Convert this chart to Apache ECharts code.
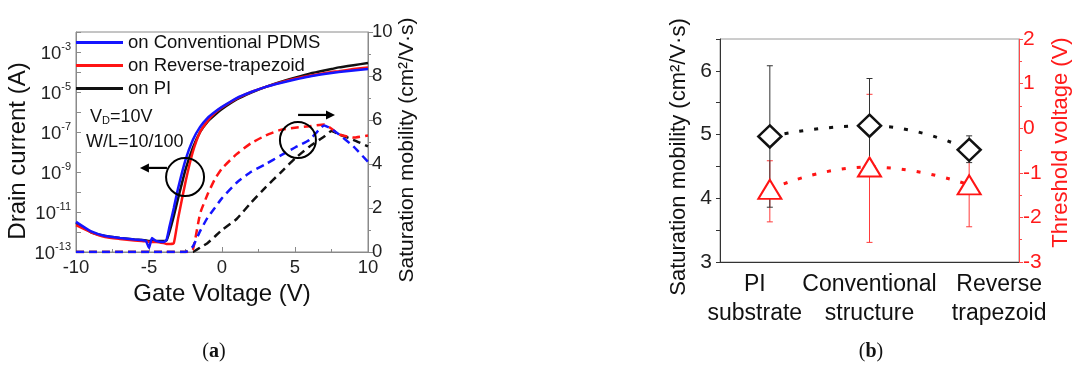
<!DOCTYPE html>
<html><head><meta charset="utf-8">
<script src="https://cdn.jsdelivr.net/npm/echarts@6/dist/echarts.min.js"></script>
<style>html,body{margin:0;padding:0;background:#fff}#c{width:1073px;height:383px}</style>
</head><body><div id="c"></div>
<script>
// ---------- Panel (a) data ----------
const gateV = [-10,-9,-8,-7,-6,-5.5,-5.2,-5,-4.8,-4.5,-4,-3.8,-3.6,-3.3,-3,-2.5,-2,-1.5,-1,-0.5,0,1,2,3,4,5,6,7,7.5,8,9,10];
// drain current (A)
const idPDMS = [3.2e-12,1.1e-12,6.3e-13,5.0e-13,4.2e-13,4.0e-13,3.5e-13,1.6e-13,5.0e-13,3.5e-13,3.2e-13,4.0e-13,1.8e-12,1.6e-11,1.6e-10,4.0e-9,4.0e-8,1.8e-7,5.0e-7,1.0e-6,1.8e-6,5.0e-6,1.0e-5,1.8e-5,2.8e-5,4.2e-5,6.0e-5,7.9e-5,8.9e-5,1.0e-4,1.2e-4,1.4e-4];
const idRev  = [2.2e-12,1.0e-12,5.6e-13,4.5e-13,3.8e-13,3.5e-13,3.4e-13,3.2e-13,3.2e-13,3.2e-13,2.8e-13,2.5e-13,2.5e-13,2.8e-13,5.0e-12,3.2e-10,1.0e-8,1.0e-7,3.5e-7,8.9e-7,1.7e-6,4.7e-6,1.0e-5,1.8e-5,3.0e-5,4.6e-5,6.5e-5,8.7e-5,1.0e-4,1.1e-4,1.4e-4,1.7e-4];
const idPI   = [2.8e-12,1.0e-12,6.3e-13,5.0e-13,4.2e-13,4.0e-13,3.8e-13,3.5e-13,3.5e-13,3.5e-13,3.5e-13,3.8e-13,1.0e-12,6.3e-12,5.0e-11,1.3e-9,1.6e-8,1.0e-7,3.2e-7,7.1e-7,1.4e-6,4.2e-6,9.3e-6,1.8e-5,3.2e-5,5.2e-5,8.3e-5,1.2e-4,1.4e-4,1.7e-4,2.2e-4,2.8e-4];
// saturation mobility (cm2/V s)
const muPDMS = [0,0,0,0,0,0,0,0,0,0,0,0,0,0,0,0,0.25,0.95,1.55,2.0,2.45,3.15,3.65,4.0,4.38,4.75,5.1,5.75,5.6,5.35,4.8,4.1];
const muRev  = [0,0,0,0,0,0,0,0,0,0,0,0,0,0,0,0,0.1,1.75,2.6,3.3,3.8,4.45,4.95,5.3,5.55,5.65,5.72,5.8,5.6,5.35,5.2,5.3];
const muPI   = [0,0,0,0,0,0,0,0,0,0,0,0,0,0,0,0,0,0.2,0.4,0.7,1.0,1.5,2.25,2.95,3.6,4.25,4.8,5.25,5.5,5.35,5.1,4.8];

// ---------- Panel (b) data ----------
const categories = ['PI\nsubstrate', 'Conventional\nstructure', 'Reverse\ntrapezoid'];
const mobility = [4.97, 5.14, 4.76];
const mobilityLow = [3.86, 4.40, 4.56];
const mobilityHigh = [6.08, 5.88, 4.98];
const vth = [-1.37, -0.87, -1.27];
const vthLow = [-2.10, -2.56, -2.21];
const vthHigh = [-0.73, 0.76, -0.40];

const FONT = '"Liberation Sans", Arial, Helvetica, sans-serif';
const BLUE = '#1515ff', RED = '#ff1414', BLACK = '#111111';
const AX_A = '#8a8a8a';

const pair = (xs, ys) => xs.map((x, i) => [x, ys[i]]);
const triple = (lo, hi) => lo.map((l, i) => [i, l, hi[i]]);

function errRender(color) {
  return function (params, api) {
    const x = api.value(0);
    const pLo = api.coord([x, api.value(1)]);
    const pHi = api.coord([x, api.value(2)]);
    const w = 3;
    const style = { stroke: color, lineWidth: 1 };
    return { type: 'group', children: [
      { type: 'line', shape: { x1: pLo[0], y1: pLo[1], x2: pHi[0], y2: pHi[1] }, style: style },
      { type: 'line', shape: { x1: pLo[0] - w, y1: pLo[1], x2: pLo[0] + w, y2: pLo[1] }, style: style },
      { type: 'line', shape: { x1: pHi[0] - w, y1: pHi[1], x2: pHi[0] + w, y2: pHi[1] }, style: style }
    ]};
  };
}

const solid = (name, data, color, z) => ({
  name: name, type: 'line', xAxisIndex: 0, yAxisIndex: 0, data: pair(gateV, data),
  symbol: 'none', smooth: 0.15, z: z, lineStyle: { color: color, width: 2.5 }, itemStyle: { color: color }
});
const dashed = (data, color, z) => ({
  type: 'line', xAxisIndex: 0, yAxisIndex: 1, data: pair(gateV, data),
  symbol: 'none', smooth: 0.15, z: z, lineStyle: { color: color, width: 2.5, type: [8, 5] }
});

// category label styles (label block offsets as in the original figure)
const catStyle = ['l', 'c', 'r'];
const catRich = {
  l: { fontSize: 23, lineHeight: 29, fontFamily: FONT, color: '#111', padding: [0, 30, 0, 0] },
  c: { fontSize: 23, lineHeight: 29, fontFamily: FONT, color: '#111' },
  r: { fontSize: 23, lineHeight: 29, fontFamily: FONT, color: '#111', padding: [0, 0, 0, 60] }
};

const chart = echarts.init(document.getElementById('c'));
const option = {
  animation: false,
  backgroundColor: '#fff',
  textStyle: { fontFamily: FONT },
  legend: {
    left: 76, top: 33, orient: 'vertical', padding: 0, itemGap: 4, itemWidth: 47, itemHeight: 3,
    icon: 'rect', selectedMode: false,
    data: ['on Conventional PDMS', 'on Reverse-trapezoid', 'on PI'],
    textStyle: { fontSize: 18.5, color: '#111', fontFamily: FONT, lineHeight: 19 }
  },
  grid: [
    { left: 76, top: 32, width: 292, height: 220, show: true, borderColor: AX_A, borderWidth: 1, backgroundColor: 'transparent' },
    { left: 720, top: 39, width: 300, height: 223, show: true, borderColor: '#9a9a9a', borderWidth: 1, backgroundColor: 'transparent' }
  ],
  xAxis: [
    { gridIndex: 0, type: 'value', min: -10, max: 10, interval: 5,
      name: 'Gate Voltage (V)', nameLocation: 'middle', nameGap: 27,
      nameTextStyle: { fontSize: 24, color: '#111', fontFamily: FONT },
      axisLine: { onZero: false, lineStyle: { color: AX_A, width: 1 } },
      axisTick: { inside: true, length: 5, lineStyle: { color: AX_A } },
      minorTick: { show: true, splitNumber: 2, length: 3, lineStyle: { color: AX_A } },
      splitLine: { show: false },
      axisLabel: { fontSize: 18.5, color: '#222', margin: 6, fontFamily: FONT } },
    { gridIndex: 1, type: 'category', data: categories, boundaryGap: true,
      axisLine: { onZero: false, lineStyle: { color: '#333', width: 1 } },
      axisTick: { alignWithLabel: true, length: 5, lineStyle: { color: '#333' } },
      axisLabel: { interval: 0, hideOverlap: false, margin: 8, fontSize: 23, lineHeight: 29, color: '#111', fontFamily: FONT,
        formatter: function (v, i) {
          const k = catStyle[i];
          return v.split('\n').map(function (s) { return '{' + k + '|' + s + '}'; }).join('\n');
        },
        rich: catRich } }
  ],
  yAxis: [
    { gridIndex: 0, type: 'log', logBase: 10, min: 1e-13, max: 1e-2, interval: 1, splitNumber: 11, position: 'left',
      name: 'Drain current (A)', nameLocation: 'middle', nameGap: 41,
      nameTextStyle: { fontSize: 24, color: '#111', fontFamily: FONT, padding: [0, 18, 0, 0] },
      axisLine: { show: true, onZero: false, lineStyle: { color: AX_A } },
      axisTick: { show: true, inside: true, length: 5, lineStyle: { color: AX_A } },
      splitLine: { show: false },
      axisLabel: {
        margin: 5, color: '#222', showMaxLabel: false,
        formatter: function (v) {
          const e = Math.round(Math.log10(v));
          if (e % 2 === 0) return '';
          return '{b|10}{s|' + e + '}';
        },
        rich: {
          b: { fontSize: 18.5, fontFamily: FONT, color: '#222', verticalAlign: 'bottom', lineHeight: 22 },
          s: { fontSize: 11, fontFamily: FONT, color: '#222', verticalAlign: 'top', lineHeight: 22, padding: [0, 0, 12, 0] }
        }
      } },
    { gridIndex: 0, type: 'value', min: 0, max: 10, interval: 2, position: 'right',
      name: 'Saturation mobility (cm²/V·s)', nameLocation: 'middle', nameGap: 21,
      nameTextStyle: { fontSize: 21, color: '#111', fontFamily: FONT, padding: [0, 16, 0, 0] },
      axisLine: { show: true, onZero: false, lineStyle: { color: AX_A } },
      axisTick: { show: true, length: 5, lineStyle: { color: AX_A } },
      minorTick: { show: true, splitNumber: 2, length: 3, lineStyle: { color: AX_A } },
      splitLine: { show: false },
      axisLabel: { fontSize: 18.5, color: '#222', margin: 4, fontFamily: FONT } },
    { gridIndex: 1, type: 'value', min: 3, max: 6.5, interval: 0.5, position: 'left',
      name: 'Saturation mobility (cm²/V·s)', nameLocation: 'middle', nameGap: 30,
      nameTextStyle: { fontSize: 22, color: '#111', fontFamily: FONT, padding: [0, 13, 0, 0] },
      axisLine: { show: true, onZero: false, lineStyle: { color: '#333' } },
      axisTick: { show: true, length: 4, lineStyle: { color: '#333' } },
      splitLine: { show: false },
      axisLabel: { fontSize: 21, color: '#222', margin: 8, fontFamily: FONT,
        formatter: function (v) { return Number.isInteger(v) ? String(v) : ''; } } },
    { gridIndex: 1, type: 'value', min: -3, max: 2, interval: 1, position: 'right',
      name: 'Threshold voltage (V)', nameLocation: 'middle', nameGap: 31,
      nameTextStyle: { fontSize: 22, color: '#ff1a1a', fontFamily: FONT, padding: [0, 0, 0, 16] },
      axisLine: { show: true, onZero: false, lineStyle: { color: '#ff4a4a' } },
      axisTick: { show: true, length: 4, lineStyle: { color: '#ff4a4a' } },
      minorTick: { show: true, splitNumber: 2, length: 3, lineStyle: { color: '#ff4a4a' } },
      splitLine: { show: false },
      axisLabel: { fontSize: 21, color: '#ff1a1a', margin: 4, fontFamily: FONT } }
  ],
  series: [
    dashed(muPI, BLACK, 2),
    dashed(muRev, RED, 3),
    dashed(muPDMS, BLUE, 4),
    solid('on PI', idPI, BLACK, 5),
    solid('on Reverse-trapezoid', idRev, RED, 6),
    solid('on Conventional PDMS', idPDMS, BLUE, 7),
    { type: 'custom', xAxisIndex: 1, yAxisIndex: 3, z: 3, renderItem: errRender('#ff3b3b'),
      data: triple(vthLow, vthHigh), encode: { x: 0, y: [1, 2] } },
    { type: 'custom', xAxisIndex: 1, yAxisIndex: 2, z: 3, renderItem: errRender('#333'),
      data: triple(mobilityLow, mobilityHigh), encode: { x: 0, y: [1, 2] } },
    { type: 'line', xAxisIndex: 1, yAxisIndex: 2, data: mobility, smooth: true, z: 5,
      symbol: 'diamond', symbolSize: [23, 22],
      lineStyle: { color: BLACK, width: 3, type: [4, 11] },
      itemStyle: { color: '#fff', borderColor: BLACK, borderWidth: 2.5 } },
    { type: 'line', xAxisIndex: 1, yAxisIndex: 3, data: vth, smooth: true, z: 5,
      symbol: 'triangle', symbolSize: [23, 19],
      lineStyle: { color: RED, width: 3, type: [4, 11] },
      itemStyle: { color: '#fff', borderColor: RED, borderWidth: 2 } }
  ]
};
chart.setOption(option);

// ---------- annotations, anchored in data coordinates ----------
const toA = (v, i) => chart.convertToPixel({ xAxisIndex: 0, yAxisIndex: 0 }, [v, i]);
const toM = (v, m) => chart.convertToPixel({ xAxisIndex: 0, yAxisIndex: 1 }, [v, m]);
function arrow(p0, p1) {
  const dx = p1[0] - p0[0], dy = p1[1] - p0[1], L = Math.hypot(dx, dy);
  const ux = dx / L, uy = dy / L, hl = 9, hw = 4.5;
  const bx = p1[0] - ux * hl, by = p1[1] - uy * hl;
  return [
    { type: 'line', shape: { x1: p0[0], y1: p0[1], x2: bx, y2: by }, style: { stroke: '#000', lineWidth: 2.2 } },
    { type: 'polygon', shape: { points: [[p1[0], p1[1]], [bx - uy * hw, by + ux * hw], [bx + uy * hw, by - ux * hw]] }, style: { fill: '#000' } }
  ];
}
const c1 = toA(-2.53, 5.6e-10), c2 = toM(5.2, 5.09);
const t1 = toA(-9.04, 5.6e-7), t2 = toA(-9.32, 3.2e-8);
const graphics = [
  { type: 'circle', shape: { cx: c1[0], cy: c1[1], r: 19 }, style: { fill: 'none', stroke: '#000', lineWidth: 2 }, z: 100 },
  { type: 'circle', shape: { cx: c2[0], cy: c2[1], r: 18 }, style: { fill: 'none', stroke: '#000', lineWidth: 2 }, z: 100 },
  ...arrow(toA(-3.77, 1.6e-9), toA(-5.62, 1.6e-9)),
  ...arrow(toM(5.21, 6.23), toM(7.74, 6.23)),
  { type: 'text', x: t1[0], y: t1[1], z: 100, style: { text: 'V{d|D}=10V', font: '18px ' + FONT, fill: '#111', verticalAlign: 'middle',
      rich: { d: { fontSize: 11, fontFamily: FONT, fill: '#111', verticalAlign: 'bottom', padding: [7, 0, 0, 0] } } } },
  { type: 'text', x: t2[0], y: t2[1], z: 100, style: { text: 'W/L=10/100', font: '18px ' + FONT, fill: '#111', verticalAlign: 'middle' } },
  { type: 'text', x: 214, y: 352, z: 100, style: { text: '({b|a})', font: '20px "Liberation Serif", "Times New Roman", serif', fill: '#111', align: 'center', verticalAlign: 'middle',
      rich: { b: { fontSize: 20, fontWeight: 'bold', fontFamily: '"Liberation Serif", serif', fill: '#111' } } } },
  { type: 'text', x: 871, y: 352, z: 100, style: { text: '({b|b})', font: '20px "Liberation Serif", "Times New Roman", serif', fill: '#111', align: 'center', verticalAlign: 'middle',
      rich: { b: { fontSize: 20, fontWeight: 'bold', fontFamily: '"Liberation Serif", serif', fill: '#111' } } } }
];
chart.setOption({ graphic: graphics.map(g => Object.assign({ silent: true }, g)) });
</script>
</body></html>
